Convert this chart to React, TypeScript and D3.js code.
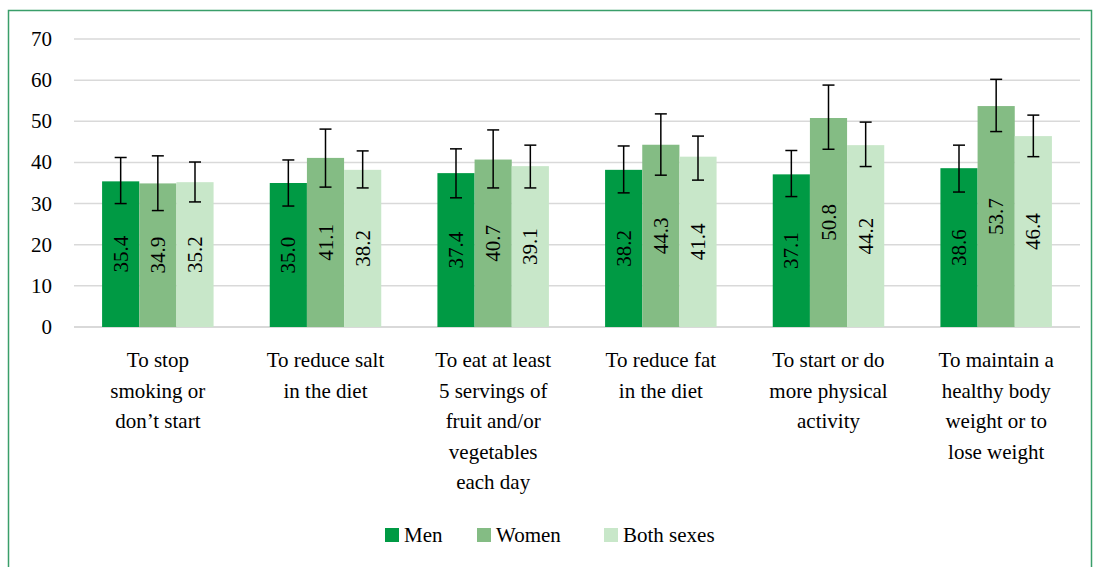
import React from "react";
import * as d3 from "d3";

const categories: string[][] = [
  ["To stop", "smoking or", "don’t start"],
  ["To reduce salt", "in the diet"],
  ["To eat at least", "5 servings of", "fruit and/or", "vegetables", "each day"],
  ["To reduce fat", "in the diet"],
  ["To start or do", "more physical", "activity"],
  ["To maintain a", "healthy body", "weight or to", "lose weight"],
];
const seriesNames = ["Men", "Women", "Both sexes"];
const seriesColors = ["#009a44", "#84bc84", "#c8e7c9"];
const men = [35.4, 35.0, 37.4, 38.2, 37.1, 38.6];
const women = [34.9, 41.1, 40.7, 44.3, 50.8, 53.7];
const both = [35.2, 38.2, 39.1, 41.4, 44.2, 46.4];
const menLow = [30.0, 29.4, 31.4, 32.6, 31.7, 32.8];
const menHigh = [41.2, 40.6, 43.3, 44.0, 42.9, 44.2];
const womenLow = [28.3, 34.0, 33.8, 36.9, 43.2, 47.5];
const womenHigh = [41.6, 48.1, 47.9, 51.8, 58.8, 60.2];
const bothLow = [30.4, 33.8, 33.8, 35.7, 39.0, 41.4];
const bothHigh = [40.1, 42.8, 44.2, 46.4, 49.8, 51.5];
const yTicks = [0, 10, 20, 30, 40, 50, 60, 70];

const values = [men, women, both];
const lows = [menLow, womenLow, bothLow];
const highs = [menHigh, womenHigh, bothHigh];

const W = 1094;
const H = 567;
const left = 74;
const right = 1080;
const top = 39;
const bottom = 327;
const tstyle = { fontFamily: `"Liberation Serif"` };

export default function App() {
  const x0 = d3
    .scaleBand<number>()
    .domain(categories.map((_, i) => i))
    .range([left, right])
    .paddingInner(0.335)
    .paddingOuter(0.1675);
  const x1 = d3
    .scaleBand<number>()
    .domain([0, 1, 2])
    .range([0, x0.bandwidth()]);
  const y = d3.scaleLinear().domain([0, 70]).range([bottom, top]);

  const legendX = [385, 477, 604];

  return (
    <svg
      width={W}
      height={H}
      style={{ position: "absolute", left: 0, top: 0, display: "block" }}
    >
      <rect x={0} y={0} width={W} height={H} fill="#fff" />
      <rect
        x={8.5}
        y={10.5}
        width={1083}
        height={600}
        fill="none"
        stroke="#3a9e6a"
        strokeWidth={1.5}
      />
      {yTicks.map((t) => (
        <g key={t}>
          <line
            x1={left}
            x2={right}
            y1={y(t)}
            y2={y(t)}
            stroke="#d9d9d9"
            strokeWidth={t === 0 ? 2 : 1.5}
          />
          <text x={52} y={y(t) + 7} textAnchor="end" fontSize={21} style={tstyle}>
            {t}
          </text>
        </g>
      ))}
      {categories.map((_, ci) => (
        <g key={ci} transform={`translate(${x0(ci)},0)`}>
          {values.map((vals, si) => {
            const bx = x1(si)!;
            const bw = x1.bandwidth();
            const v = vals[ci];
            const cx = bx + bw / 2;
            const mid = (y(v) + y(0)) / 2;
            return (
              <g key={si}>
                <rect
                  x={bx}
                  y={y(v)}
                  width={bw}
                  height={y(0) - y(v)}
                  fill={seriesColors[si]}
                />
                <text
                  transform={`translate(${cx + 7},${mid}) rotate(-90)`}
                  textAnchor="middle"
                  fontSize={21}
                  style={tstyle}
                >
                  {v.toFixed(1)}
                </text>
              </g>
            );
          })}
          {values.map((vals, si) => {
            const cx = x1(si)! + x1.bandwidth() / 2;
            const lo = y(lows[si][ci]);
            const hi = y(highs[si][ci]);
            return (
              <g key={"e" + si} stroke="#000" strokeWidth={1.5}>
                <line x1={cx} x2={cx} y1={lo} y2={hi} />
                <line x1={cx - 6} x2={cx + 6} y1={lo} y2={lo} />
                <line x1={cx - 6} x2={cx + 6} y1={hi} y2={hi} />
              </g>
            );
          })}
        </g>
      ))}
      {categories.map((lines, ci) => {
        const cx = x0(ci)! + x0.bandwidth() / 2;
        return (
          <g key={"c" + ci}>
            {lines.map((l, li) => (
              <text
                key={li}
                x={cx}
                y={367 + li * 30.5}
                textAnchor="middle"
                fontSize={21}
                style={tstyle}
              >
                {l}
              </text>
            ))}
          </g>
        );
      })}
      {seriesNames.map((name, si) => (
        <g key={"l" + si} transform={`translate(${legendX[si]},0)`}>
          <rect x={0} y={528} width={14} height={14} fill={seriesColors[si]} />
          <text x={19} y={542} fontSize={21} style={tstyle}>
            {name}
          </text>
        </g>
      ))}
    </svg>
  );
}
